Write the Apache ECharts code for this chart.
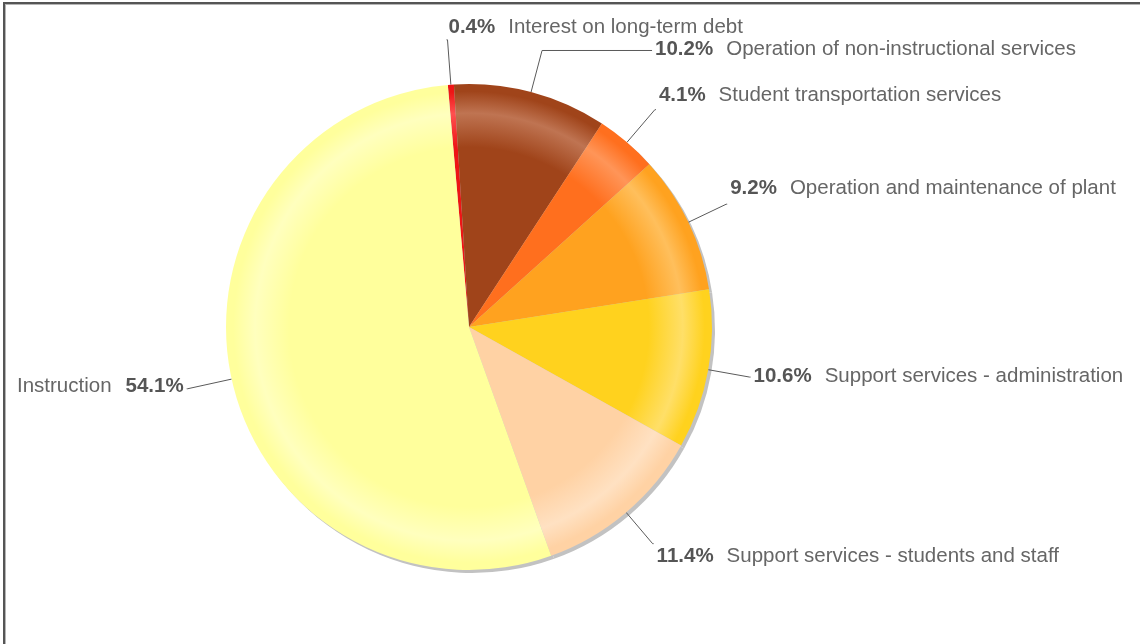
<!DOCTYPE html>
<html>
<head>
<meta charset="utf-8">
<title>Expenditures by function</title>
<script src="https://cdn.jsdelivr.net/npm/echarts@6/dist/echarts.min.js"></script>
<style>
  html, body { margin: 0; padding: 0; background: #ffffff; overflow: hidden; width: 1140px; height: 644px; }
  #chart { position: absolute; left: 0; top: 0; width: 1140px; height: 644px; }
  #frame {
    position: absolute; left: 3px; top: 2px; width: 1137px; height: 642px;
    border-top: 2px solid #555555; border-left: 2px solid #555555;
    box-shadow: inset 1px 1px 0 #b5b5b5;
    pointer-events: none;
  }
</style>
</head>
<body>
<div id="chart"></div>
<div id="frame"></div>
<script>
// Spending categories, listed clockwise from just left of 12 o'clock
const categories = [
  'Interest on long-term debt',
  'Operation of non-instructional services',
  'Student transportation services',
  'Operation and maintenance of plant',
  'Support services - administration',
  'Support services - students and staff',
  'Instruction'
];
// Share of total spending, percent
const shares = [0.4, 10.2, 4.1, 9.2, 10.6, 11.4, 54.1];

// Slice fills: [base, highlight ring]
const sliceColors = [
  ['#ee1515', '#ff5050'],
  ['#a0441a', '#bf7452'],
  ['#ff6f1e', '#ff9558'],
  ['#ffa21f', '#ffbf5c'],
  ['#ffd21e', '#ffdf68'],
  ['#ffd2a4', '#ffe1c2'],
  ['#ffff9c', '#ffffbe']
];

// Label leader tweaks: [first segment, horizontal segment, padding]
const labelTweaks = [
  [45, 1, [0, 0, 24, 5]],
  [43, 110, [0, 0, 2, 0]],
  [43, 1, [0, 0, 28, 0]],
  [42, 1, [0, 0, 32, 0]],
  [42, 1, [0, 0, 2, 0]],
  [41, 1, [26, 0, 0, 0]],
  [45, 1, [0, 0, 4, 0]]
];

const CX = 469, CY = 327, R = 243;
const FONT = 'Liberation Sans, Arial, sans-serif';

function ringFill(c) {
  return {
    type: 'radial', x: CX, y: CY, r: R, global: true,
    colorStops: [
      { offset: 0, color: c[0] },
      { offset: 0.74, color: c[0] },
      { offset: 0.88, color: c[1] },
      { offset: 0.97, color: c[0] },
      { offset: 1, color: c[0] }
    ]
  };
}

const rich = {
  p: { fontFamily: FONT, fontSize: 20.5, fontWeight: 'bold', color: '#555555' },
  n: { fontFamily: FONT, fontSize: 20.5, color: '#666666' },
  pr: { fontFamily: FONT, fontSize: 20.5, fontWeight: 'bold', color: '#555555', padding: [0, 13, 0, 0] },
  nr: { fontFamily: FONT, fontSize: 20.5, color: '#666666', padding: [0, 14, 0, 0] }
};

const sliceData = categories.map((name, i) => ({
  name: name,
  value: shares[i],
  itemStyle: { color: ringFill(sliceColors[i]) },
  labelLine: { length: labelTweaks[i][0], length2: labelTweaks[i][1] },
  label: { padding: labelTweaks[i][2] }
}));

const shadowData = categories.map((name, i) => ({ name: name, value: shares[i] }));

const chart = echarts.init(document.getElementById('chart'), null, { renderer: 'canvas' });

chart.setOption({
  backgroundColor: 'transparent',
  animation: false,
  series: [
    {
      // soft drop shadow under the pie
      type: 'pie',
      silent: true,
      z: 1,
      center: [CX + 3, CY + 3],
      radius: R,
      startAngle: 95,
      clockwise: true,
      data: shadowData,
      label: { show: false },
      labelLine: { show: false },
      itemStyle: { color: '#c2c2c2', borderWidth: 0 },
      emphasis: { disabled: true }
    },
    {
      type: 'pie',
      z: 2,
      center: [CX, CY],
      radius: R,
      startAngle: 95,
      clockwise: true,
      avoidLabelOverlap: false,
      bleedMargin: 0,
      data: sliceData,
      itemStyle: { borderWidth: 0 },
      emphasis: { disabled: true },
      label: {
        show: true,
        position: 'outside',
        distanceToLabelLine: 3,
        overflow: 'none',
        formatter: function (p) {
          const pct = p.value.toFixed(1) + '%';
          if (p.dataIndex === categories.length - 1) {
            return '{nr|' + p.name + '}{p|' + pct + '}';
          }
          return '{pr|' + pct + '}{n|' + p.name + '}';
        },
        rich: rich
      },
      labelLine: {
        show: true,
        minTurnAngle: 0,
        maxSurfaceAngle: 180,
        lineStyle: { color: '#5a5a5a', width: 1 }
      },
      labelLayout: function (p) {
        // the smallest slice sits just left of top but its label reads rightwards
        if (p.dataIndex === 0) {
          return { align: 'left' };
        }
        return {};
      }
    }
  ]
});
</script>
</body>
</html>
